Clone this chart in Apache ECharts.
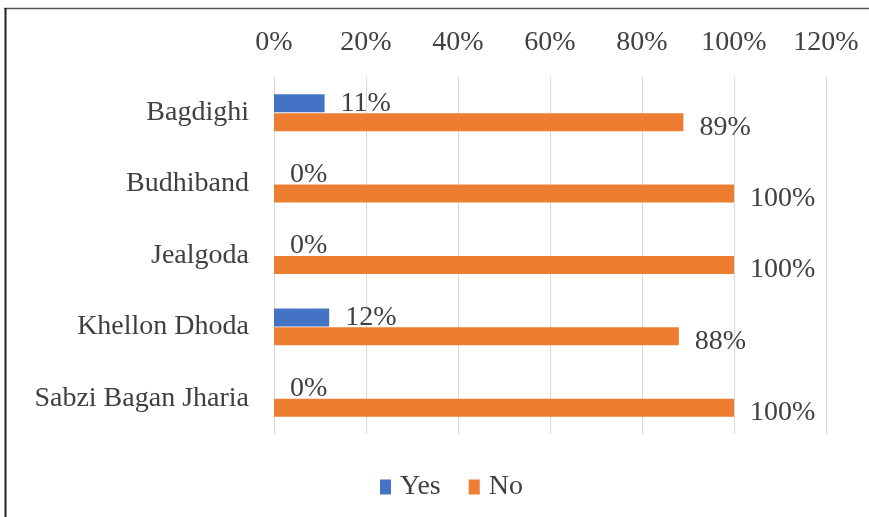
<!DOCTYPE html>
<html>
<head>
<meta charset="utf-8">
<script src="https://cdn.jsdelivr.net/npm/echarts@6/dist/echarts.min.js"></script>
<style>
  html, body { margin: 0; padding: 0; background: #fff; }
  #chart { width: 869px; height: 517px; }
</style>
</head>
<body>
<div id="chart"></div>
<script>
// Survey sites, top to bottom
const sites = ['Bagdighi', 'Budhiband', 'Jealgoda', 'Khellon Dhoda', 'Sabzi Bagan Jharia'];
// Share of respondents (%) answering each way
const yesValues = [11, 0, 0, 12, 0];
const noValues = [89, 100, 100, 88, 100];
// Percentage axis
const axisMin = 0;
const axisMax = 120;
const axisStep = 20;

const FONT = '"Liberation Serif", "Times New Roman", serif';
const TEXT = '#404040';
const SIZE = 28;

const chart = echarts.init(document.getElementById('chart'), null, { renderer: 'canvas' });

chart.setOption({
  backgroundColor: '#ffffff',
  animation: false,
  textStyle: { fontFamily: FONT },
  grid: { left: 274, right: 43, top: 77, bottom: 83, containLabel: false },
  legend: {
    data: ['Yes', 'No'],
    left: 375,
    top: 468,
    itemWidth: 11,
    itemHeight: 15,
    itemGap: 28,
    icon: 'rect',
    textStyle: { fontFamily: FONT, fontSize: SIZE, color: TEXT, padding: [0, 0, 0, 4] }
  },
  xAxis: {
    type: 'value',
    position: 'top',
    min: axisMin,
    max: axisMax,
    interval: axisStep,
    axisLine: { show: false },
    axisTick: { show: false },
    axisLabel: {
      formatter: '{value}%',
      fontFamily: FONT,
      fontSize: SIZE,
      color: TEXT,
      margin: 20
    },
    splitLine: { show: true, lineStyle: { color: '#d9d9d9', width: 1 } }
  },
  yAxis: {
    type: 'category',
    data: sites,
    inverse: true,
    axisLine: { show: false },
    axisTick: { show: false },
    axisLabel: {
      fontFamily: FONT,
      fontSize: SIZE,
      color: TEXT,
      margin: 25
    }
  },
  series: [
    {
      name: 'Yes',
      type: 'bar',
      data: yesValues,
      barWidth: 18,
      barGap: '5%',
      itemStyle: { color: '#4472c4' },
      label: {
        show: true,
        position: 'right',
        distance: 16,
        formatter: '{c}%',
        fontFamily: FONT,
        fontSize: SIZE,
        color: TEXT
      }
    },
    {
      name: 'No',
      type: 'bar',
      data: noValues,
      barWidth: 18,
      itemStyle: { color: '#ed7d31' },
      label: {
        show: true,
        position: 'right',
        distance: 16,
        offset: [0, 5],
        formatter: '{c}%',
        fontFamily: FONT,
        fontSize: SIZE,
        color: TEXT
      }
    }
  ],
  graphic: [
    // frame lines along the top and left edges
    { type: 'line', shape: { x1: 4, y1: 8.5, x2: 869, y2: 8.5 }, style: { stroke: '#555', lineWidth: 1.5 } },
    { type: 'line', shape: { x1: 5.5, y1: 8, x2: 5.5, y2: 517 }, style: { stroke: '#222', lineWidth: 2 } }
  ]
});
</script>
</body>
</html>
